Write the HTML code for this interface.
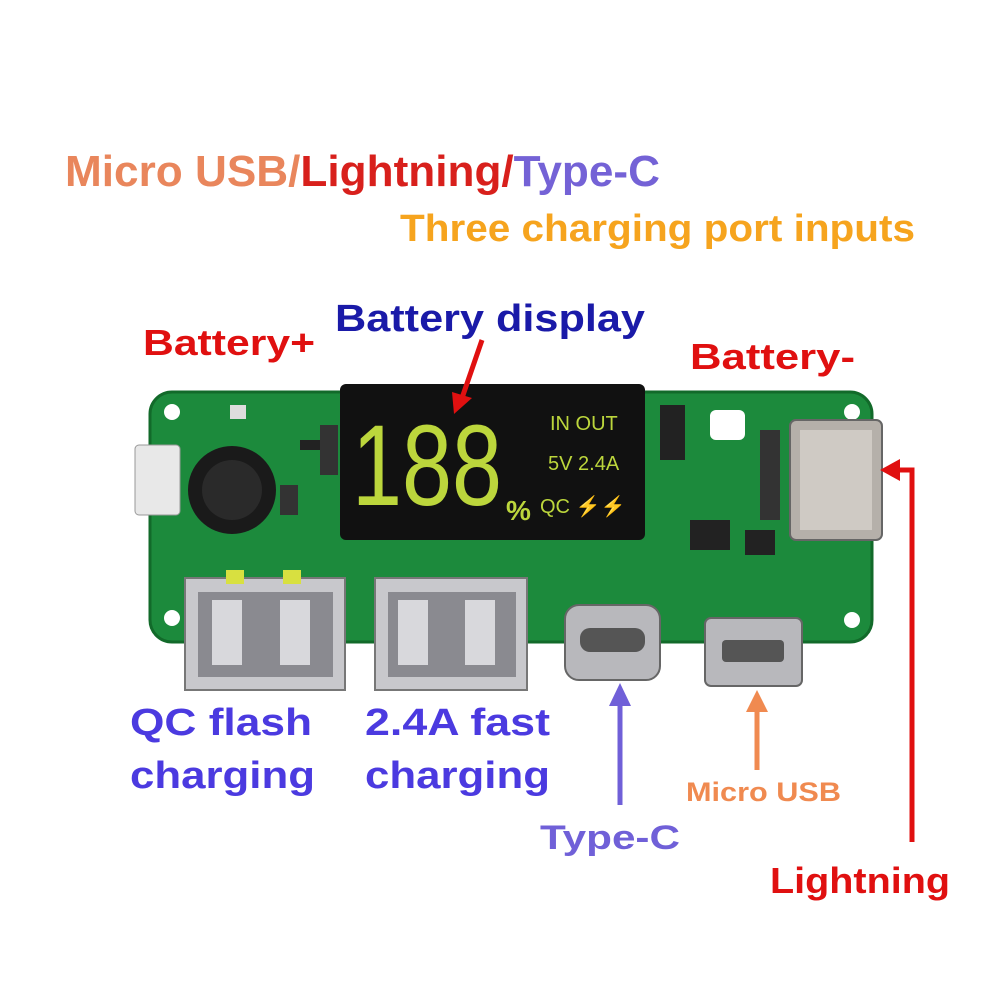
<!DOCTYPE html>
<html><head><style>
body{margin:0;background:#fff;}
svg{display:block}
text{font-family:"Liberation Sans",sans-serif;font-weight:bold}
</style></head><body>
<svg width="1002" height="1002" viewBox="0 0 1002 1002">
<rect width="1002" height="1002" fill="#fff"/>
<!-- Title -->
<text x="65" y="186" font-size="44" textLength="595" lengthAdjust="spacingAndGlyphs"><tspan fill="#e9865c">Micro USB/</tspan><tspan fill="#d8201c">Lightning/</tspan><tspan fill="#7462d6">Type-C</tspan></text>
<text x="400" y="241" font-size="38" fill="#f6a41e" textLength="515" lengthAdjust="spacingAndGlyphs">Three charging port inputs</text>
<text x="143" y="355" font-size="36" fill="#e01010" textLength="172" lengthAdjust="spacingAndGlyphs">Battery+</text>
<text x="335" y="331" font-size="38" fill="#1a1aa8" textLength="310" lengthAdjust="spacingAndGlyphs">Battery display</text>
<text x="690" y="369" font-size="36" fill="#e01010" textLength="165" lengthAdjust="spacingAndGlyphs">Battery-</text>

<!-- PCB -->
<rect x="150" y="392" width="722" height="250" rx="22" fill="#1c8a3c"/>
<rect x="150" y="392" width="722" height="250" rx="22" fill="none" stroke="#126a2a" stroke-width="3"/>
<circle cx="172" cy="412" r="8" fill="#fff"/>
<circle cx="852" cy="412" r="8" fill="#fff"/>
<circle cx="172" cy="618" r="8" fill="#fff"/>
<circle cx="852" cy="620" r="8" fill="#fff"/>
<rect x="710" y="410" width="35" height="30" rx="6" fill="#fff"/>
<rect x="230" y="405" width="16" height="14" fill="#ddd"/>
<rect x="135" y="445" width="45" height="70" rx="4" fill="#e8e8e8" stroke="#999"/>
<circle cx="232" cy="490" r="44" fill="#1a1a1a"/>
<circle cx="232" cy="490" r="30" fill="#2a2a2a"/>
<rect x="300" y="440" width="28" height="10" fill="#222"/>
<rect x="320" y="425" width="18" height="50" fill="#333"/>
<rect x="660" y="405" width="25" height="55" fill="#222"/>
<rect x="690" y="520" width="40" height="30" fill="#222"/>
<rect x="745" y="530" width="30" height="25" fill="#222"/>
<rect x="760" y="430" width="20" height="90" fill="#333"/>
<rect x="280" y="485" width="18" height="30" fill="#333"/>
<!-- display -->
<rect x="340" y="384" width="305" height="156" rx="6" fill="#111"/>
<text x="352" y="505" font-size="115" fill="#bcd63c" style="font-weight:normal" textLength="150" lengthAdjust="spacingAndGlyphs">188</text>
<text x="506" y="520" font-size="28" fill="#bcd63c">%</text>
<text x="550" y="430" font-size="20" fill="#bcd63c" style="font-weight:normal">IN  OUT</text>
<text x="548" y="470" font-size="20" fill="#bcd63c" style="font-weight:normal">5V  2.4A</text>
<text x="540" y="513" font-size="20" fill="#bcd63c" style="font-weight:normal">QC   ⚡⚡</text>
<!-- right type-c -->
<rect x="790" y="420" width="92" height="120" rx="6" fill="#b5b0aa" stroke="#666" stroke-width="2"/>
<rect x="800" y="430" width="72" height="100" fill="#cfcac4"/>
<!-- USB A ports -->
<rect x="185" y="578" width="160" height="112" fill="#c8c8cc" stroke="#777" stroke-width="2"/>
<rect x="198" y="592" width="135" height="85" fill="#8a8a90"/>
<rect x="212" y="600" width="30" height="65" fill="#d8d8dc"/>
<rect x="280" y="600" width="30" height="65" fill="#d8d8dc"/>
<rect x="226" y="570" width="18" height="14" fill="#d8e040"/>
<rect x="283" y="570" width="18" height="14" fill="#d8e040"/>
<rect x="375" y="578" width="152" height="112" fill="#c8c8cc" stroke="#777" stroke-width="2"/>
<rect x="388" y="592" width="128" height="85" fill="#8a8a90"/>
<rect x="398" y="600" width="30" height="65" fill="#d8d8dc"/>
<rect x="465" y="600" width="30" height="65" fill="#d8d8dc"/>
<!-- type-c & micro -->
<rect x="565" y="605" width="95" height="75" rx="14" fill="#b8b8bc" stroke="#666" stroke-width="2"/>
<rect x="580" y="628" width="65" height="24" rx="10" fill="#555"/>
<rect x="705" y="618" width="97" height="68" rx="6" fill="#b8b8bc" stroke="#666" stroke-width="2"/>
<rect x="722" y="640" width="62" height="22" rx="4" fill="#555"/>

<!-- red arrow on display -->
<line x1="482" y1="340" x2="462" y2="398" stroke="#e01010" stroke-width="5"/>
<polygon points="454,414 452,392 472,398" fill="#e01010"/>

<!-- labels -->
<text x="130" y="735" font-size="38" fill="#4b3ae0" textLength="182" lengthAdjust="spacingAndGlyphs">QC flash</text>
<text x="130" y="788" font-size="38" fill="#4b3ae0" textLength="185" lengthAdjust="spacingAndGlyphs">charging</text>
<text x="365" y="735" font-size="38" fill="#4b3ae0" textLength="185" lengthAdjust="spacingAndGlyphs">2.4A fast</text>
<text x="365" y="788" font-size="38" fill="#4b3ae0" textLength="185" lengthAdjust="spacingAndGlyphs">charging</text>

<!-- Type-C arrow -->
<line x1="620" y1="805" x2="620" y2="700" stroke="#7060d8" stroke-width="5"/>
<polygon points="620,683 609,706 631,706" fill="#7060d8"/>
<text x="540" y="849" font-size="34" fill="#7060d8" textLength="140" lengthAdjust="spacingAndGlyphs">Type-C</text>
<!-- Micro USB arrow -->
<line x1="757" y1="770" x2="757" y2="705" stroke="#f08a50" stroke-width="5"/>
<polygon points="757,690 746,712 768,712" fill="#f08a50"/>
<text x="686" y="801" font-size="27" fill="#f08a50" textLength="155" lengthAdjust="spacingAndGlyphs">Micro USB</text>
<!-- Lightning arrow -->
<polyline points="912,842 912,470 895,470" fill="none" stroke="#e01010" stroke-width="5"/>
<polygon points="880,470 900,459 900,481" fill="#e01010"/>
<text x="770" y="893" font-size="36" fill="#e01010" textLength="180" lengthAdjust="spacingAndGlyphs">Lightning</text>
</svg>
</body></html>
